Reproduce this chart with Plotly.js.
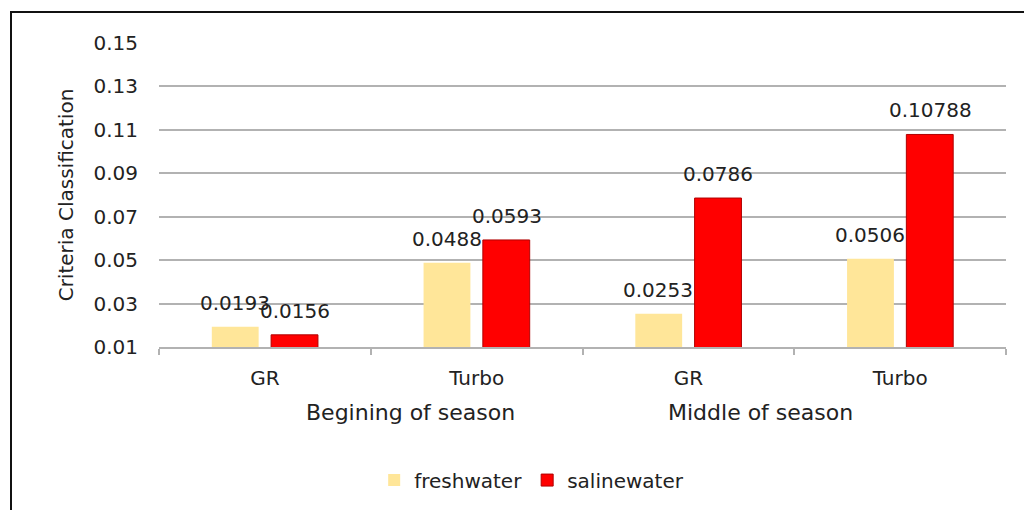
<!DOCTYPE html>
<html>
<head>
<meta charset="utf-8">
<script src="https://cdn.plot.ly/plotly-3.0.1.min.js"></script>
<style>
  html, body { margin: 0; padding: 0; width: 1024px; height: 510px; overflow: hidden; background: #fff; }
  #chart { width: 1024px; height: 510px; }
  #frame { position: absolute; left: 10px; top: 11px; width: 1100px; height: 600px; border: 2px solid #111; pointer-events: none; }
</style>
</head>
<body>
<div id="chart"></div>
<div id="frame"></div>
<script>
const subLabels = ["GR", "Turbo", "GR", "Turbo"];
const groupLabels = ["Begining of season", "Middle of season"];
const freshwater = [0.0193, 0.0488, 0.0253, 0.0506];
const salinewater = [0.0156, 0.0593, 0.0786, 0.10788];
const freshLabels = ["0.0193", "0.0488", "0.0253", "0.0506"];
const salineLabels = ["0.0156", "0.0593", "0.0786", "0.10788"];
const yTicks = [0.01, 0.03, 0.05, 0.07, 0.09, 0.11, 0.13, 0.15];

const xIdx = subLabels.map((_, i) => i);
const FONT = "DejaVu Sans, sans-serif";
const TXT = "#222222";
const GRID = "#b2b2b2";

const traces = [
  { type: "bar", name: "freshwater", x: xIdx, y: freshwater,
    marker: { color: "#FFE699", line: { width: 0 } } },
  { type: "bar", name: "salinewater", x: xIdx, y: salinewater,
    marker: { color: "#FF0000", line: { color: "#B00000", width: 1 } } }
];

const annotations = [];
xIdx.forEach(i => {
  annotations.push({ x: i, y: freshwater[i], xref: "x", yref: "y", text: freshLabels[i],
    showarrow: false, xshift: -30, yshift: 24, yanchor: "middle", font: { family: FONT, size: 20, color: TXT } });
  annotations.push({ x: i, y: salinewater[i], xref: "x", yref: "y", text: salineLabels[i],
    showarrow: false, xshift: 30, yshift: 24, yanchor: "middle", font: { family: FONT, size: 20, color: TXT } });
});
const groupPos = [0.69, 2.34];
groupLabels.forEach((g, k) => {
  annotations.push({ x: groupPos[k], y: -0.215, xref: "x", yref: "paper", text: g, showarrow: false,
    yanchor: "middle", font: { family: FONT, size: 22, color: TXT } });
});

const layout = {
  width: 1024, height: 510,
  margin: { l: 159, r: 18, t: 43, b: 162 },
  paper_bgcolor: "#fff", plot_bgcolor: "#fff",
  font: { family: FONT, color: TXT, size: 20 },
  barmode: "group", bargap: 0.44, bargroupgap: 0.21,
  showlegend: true,
  legend: { orientation: "h", x: 0.44, xanchor: "center", y: -0.433, yanchor: "middle",
    font: { family: FONT, size: 20, color: TXT }, itemwidth: 30 },
  xaxis: {
    type: "linear", range: [-0.5, 3.5], tickvals: xIdx, ticktext: subLabels,
    ticks: "", showgrid: false, zeroline: false,
    showline: true, linecolor: GRID, linewidth: 2,
    ticklabelstandoff: 12,
    tickfont: { family: FONT, size: 20, color: TXT },
    minor: { ticks: "outside", tick0: -0.5, dtick: 1, ticklen: 6, tickcolor: GRID, tickwidth: 2, showgrid: false },
    fixedrange: true
  },
  yaxis: {
    range: [0.01, 0.15], tickvals: yTicks, ticktext: yTicks.map(v => v.toFixed(2)),
    showgrid: true, gridcolor: GRID, gridwidth: 2,
    zeroline: false, showline: false, ticks: "",
    ticklabelstandoff: 20,
    tickfont: { family: FONT, size: 20, color: TXT },
    title: { text: "Criteria Classification", font: { family: FONT, size: 20, color: TXT }, standoff: 14 },
    fixedrange: true
  },
  annotations: annotations
};

Plotly.newPlot("chart", traces, layout, { displayModeBar: false, staticPlot: true });
</script>
</body>
</html>
